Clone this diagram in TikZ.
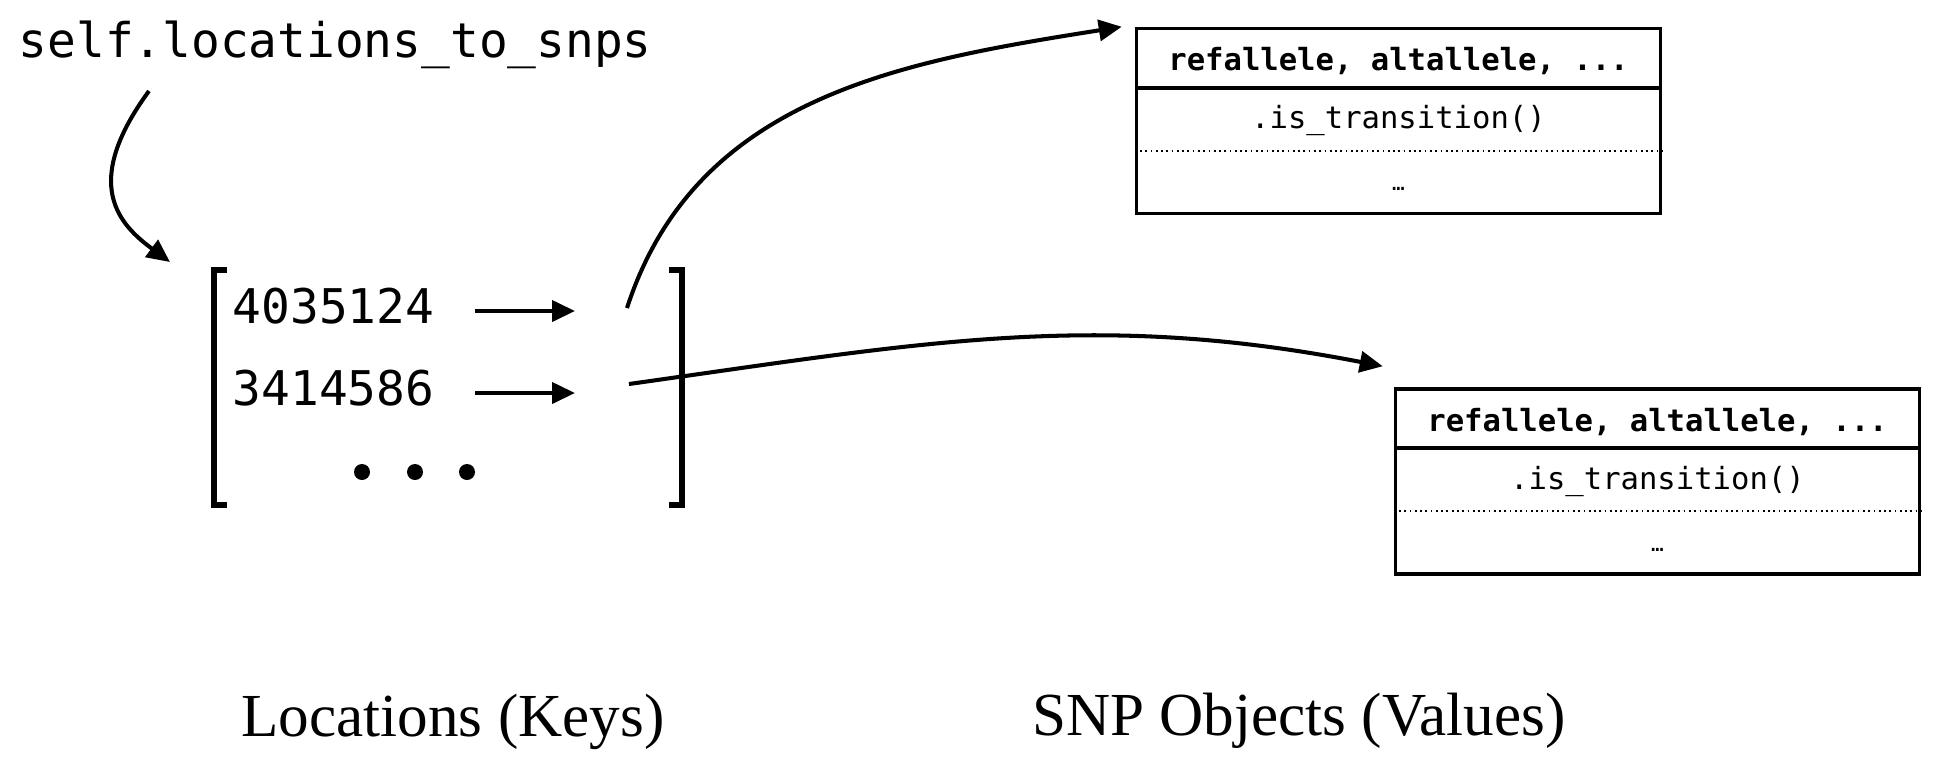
\documentclass[tikz,border=0pt]{standalone}
\usepackage{fontspec}
\setmainfont{Liberation Serif}
\setmonofont{DejaVu Sans Mono}
\usetikzlibrary{arrows.meta,positioning}
\tikzset{
  keytext/.style={font=\ttfamily\fontsize{13.6}{16}\selectfont, inner sep=0pt, anchor=base west},
  snpbox/.style={draw, line width=1pt, minimum width=5.24cm, minimum height=1.85cm, inner sep=0pt},
  fieldtext/.style={font=\ttfamily\fontsize{8.7}{10}\selectfont, inner sep=0pt, anchor=base},
  captext/.style={font=\fontsize{17.4}{20}\selectfont, inner sep=0pt, anchor=base},
  keyarrow/.style={line width=1.15pt, -{Triangle[length=0.23cm,width=0.21cm]}},
}
\begin{document}
\begin{tikzpicture}[line join=miter]
	\useasboundingbox (0,0) rectangle (19.36,-7.64);
	% dictionary name
	\node[keytext] (dict) at (0.18,-0.57) {self.locations\_to\_snps};
	\coordinate (dictTip) at (1.70,-2.62);
	\draw[keyarrow] ([xshift=1.31cm,yshift=-0.22cm]dict.south west) .. controls (0.8,-1.85) and (1.2,-2.25) .. (dictTip);
	% keys
	\draw[line width=1.5pt] (2.27,-2.70) -| (2.14,-5.05) -- (2.27,-5.05);
	\draw[line width=1.5pt] (6.69,-2.70) -| (6.82,-5.05) -- (6.69,-5.05);
	\node[keytext] (kA) at (2.32,-3.23) {4035124};
	\node[keytext] (kB) at (2.32,-4.05) {3414586};
	\coordinate (tA) at (5.75,-3.11);
	\coordinate (tB) at (5.75,-3.93);
	\draw[keyarrow, shorten <=0.4cm] (kA.east |- tA) -- (tA);
	\draw[keyarrow, shorten <=0.4cm] (kB.east |- tB) -- (tB);
	\foreach \x in {3.62,4.15,4.67} \fill (\x,-4.72) circle (0.08);
	%===
	% values
	\node[snpbox] (snpA) at (13.985,-1.21) {};
	\node[snpbox] (snpB) at (16.575,-4.815) {};
	\foreach \b in {snpA,snpB}{
		\draw[line width=1pt] ([yshift=-0.61cm]\b.north west) -- ([yshift=-0.61cm]\b.north east);
		\draw[densely dotted, line width=0.5pt] ([yshift=-1.24cm]\b.north west) -- ([yshift=-1.24cm]\b.north east);
		\node[fieldtext, font=\ttfamily\bfseries\fontsize{8.7}{10}\selectfont] (\b-head) at ([yshift=-0.44cm]\b.north) {refallele, altallele, ...};
		\node[fieldtext] (\b-meth) at ([yshift=-1.02cm]\b.north) {.is\_transition()};
		\node[fieldtext, font=\ttfamily\fontsize{6}{7}\selectfont] (\b-more) at ([yshift=-1.64cm]\b.north) {…};
	}
	\coordinate (sA) at (6.27,-3.08);
	\coordinate (sB) at (6.29,-3.84);
	\draw[keyarrow] (sA) to[out=72,in=-171] ([xshift=-0.13cm]snpA.north west);
	\draw[keyarrow] (sB) to[out=8,in=169] ([xshift=-0.11cm,yshift=0.21cm]snpB.north west);
	% captions
	\node[captext] (keysCap) at (4.53,-7.36) {Locations (Keys)};
	\node[captext] (valsCap) at (12.99,-7.35) {SNP Objects (Values)};
\end{tikzpicture}
\end{document}
